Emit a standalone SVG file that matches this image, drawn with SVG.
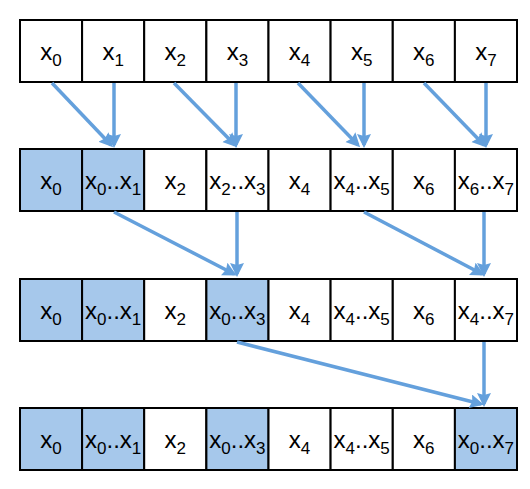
<svg xmlns="http://www.w3.org/2000/svg" width="530" height="489" viewBox="0 0 530 489">
<style>
.c{fill:#ffffff;stroke:#000000;stroke-width:2}
.b{fill:#a6c8eb;stroke:#000000;stroke-width:2}
text{font-family:"Liberation Sans",Arial,sans-serif;font-size:24px;fill:#000000;text-anchor:middle}
.s{font-size:17px}
.a{fill:none;stroke:#64a0dc;stroke-width:3.5;marker-end:url(#ah)}
</style>
<defs>
<marker id="ah" markerUnits="userSpaceOnUse" markerWidth="16" markerHeight="16" refX="11" refY="7" orient="auto">
<path d="M0,0 L14,7 L0,14 L2,7 z" fill="#64a0dc"/>
</marker>
</defs>
<rect width="530" height="489" fill="#ffffff"/>

<g id="r1c0"><rect class="c" x="20" y="20" width="62.1" height="62"/><text x="51.1" y="60">x<tspan class="s" dy="6">0</tspan></text></g>
<g id="r1c1"><rect class="c" x="82.1" y="20" width="62.1" height="62"/><text x="113.2" y="60">x<tspan class="s" dy="6">1</tspan></text></g>
<g id="r1c2"><rect class="c" x="144.2" y="20" width="62.1" height="62"/><text x="175.3" y="60">x<tspan class="s" dy="6">2</tspan></text></g>
<g id="r1c3"><rect class="c" x="206.4" y="20" width="62.1" height="62"/><text x="237.4" y="60">x<tspan class="s" dy="6">3</tspan></text></g>
<g id="r1c4"><rect class="c" x="268.5" y="20" width="62.1" height="62"/><text x="299.6" y="60">x<tspan class="s" dy="6">4</tspan></text></g>
<g id="r1c5"><rect class="c" x="330.6" y="20" width="62.1" height="62"/><text x="361.7" y="60">x<tspan class="s" dy="6">5</tspan></text></g>
<g id="r1c6"><rect class="c" x="392.8" y="20" width="62.1" height="62"/><text x="423.8" y="60">x<tspan class="s" dy="6">6</tspan></text></g>
<g id="r1c7"><rect class="c" x="454.9" y="20" width="62.1" height="62"/><text x="485.9" y="60">x<tspan class="s" dy="6">7</tspan></text></g>

<g id="r2c0"><rect class="b" x="20" y="149" width="62.1" height="62"/><text x="51.1" y="189">x<tspan class="s" dy="6">0</tspan></text></g>
<g id="r2c1"><rect class="b" x="82.1" y="149" width="62.1" height="62"/><text x="113.2" y="189">x<tspan class="s" dy="6">0</tspan><tspan dy="-6">..x</tspan><tspan class="s" dy="6">1</tspan></text></g>
<g id="r2c2"><rect class="c" x="144.2" y="149" width="62.1" height="62"/><text x="175.3" y="189">x<tspan class="s" dy="6">2</tspan></text></g>
<g id="r2c3"><rect class="c" x="206.4" y="149" width="62.1" height="62"/><text x="237.4" y="189">x<tspan class="s" dy="6">2</tspan><tspan dy="-6">..x</tspan><tspan class="s" dy="6">3</tspan></text></g>
<g id="r2c4"><rect class="c" x="268.5" y="149" width="62.1" height="62"/><text x="299.6" y="189">x<tspan class="s" dy="6">4</tspan></text></g>
<g id="r2c5"><rect class="c" x="330.6" y="149" width="62.1" height="62"/><text x="361.7" y="189">x<tspan class="s" dy="6">4</tspan><tspan dy="-6">..x</tspan><tspan class="s" dy="6">5</tspan></text></g>
<g id="r2c6"><rect class="c" x="392.8" y="149" width="62.1" height="62"/><text x="423.8" y="189">x<tspan class="s" dy="6">6</tspan></text></g>
<g id="r2c7"><rect class="c" x="454.9" y="149" width="62.1" height="62"/><text x="485.9" y="189">x<tspan class="s" dy="6">6</tspan><tspan dy="-6">..x</tspan><tspan class="s" dy="6">7</tspan></text></g>

<g id="r3c0"><rect class="b" x="20" y="279" width="62.1" height="62"/><text x="51.1" y="319">x<tspan class="s" dy="6">0</tspan></text></g>
<g id="r3c1"><rect class="b" x="82.1" y="279" width="62.1" height="62"/><text x="113.2" y="319">x<tspan class="s" dy="6">0</tspan><tspan dy="-6">..x</tspan><tspan class="s" dy="6">1</tspan></text></g>
<g id="r3c2"><rect class="c" x="144.2" y="279" width="62.1" height="62"/><text x="175.3" y="319">x<tspan class="s" dy="6">2</tspan></text></g>
<g id="r3c3"><rect class="b" x="206.4" y="279" width="62.1" height="62"/><text x="237.4" y="319">x<tspan class="s" dy="6">0</tspan><tspan dy="-6">..x</tspan><tspan class="s" dy="6">3</tspan></text></g>
<g id="r3c4"><rect class="c" x="268.5" y="279" width="62.1" height="62"/><text x="299.6" y="319">x<tspan class="s" dy="6">4</tspan></text></g>
<g id="r3c5"><rect class="c" x="330.6" y="279" width="62.1" height="62"/><text x="361.7" y="319">x<tspan class="s" dy="6">4</tspan><tspan dy="-6">..x</tspan><tspan class="s" dy="6">5</tspan></text></g>
<g id="r3c6"><rect class="c" x="392.8" y="279" width="62.1" height="62"/><text x="423.8" y="319">x<tspan class="s" dy="6">6</tspan></text></g>
<g id="r3c7"><rect class="c" x="454.9" y="279" width="62.1" height="62"/><text x="485.9" y="319">x<tspan class="s" dy="6">4</tspan><tspan dy="-6">..x</tspan><tspan class="s" dy="6">7</tspan></text></g>

<g id="r4c0"><rect class="b" x="20" y="408" width="62.1" height="62"/><text x="51.1" y="448">x<tspan class="s" dy="6">0</tspan></text></g>
<g id="r4c1"><rect class="b" x="82.1" y="408" width="62.1" height="62"/><text x="113.2" y="448">x<tspan class="s" dy="6">0</tspan><tspan dy="-6">..x</tspan><tspan class="s" dy="6">1</tspan></text></g>
<g id="r4c2"><rect class="c" x="144.2" y="408" width="62.1" height="62"/><text x="175.3" y="448">x<tspan class="s" dy="6">2</tspan></text></g>
<g id="r4c3"><rect class="b" x="206.4" y="408" width="62.1" height="62"/><text x="237.4" y="448">x<tspan class="s" dy="6">0</tspan><tspan dy="-6">..x</tspan><tspan class="s" dy="6">3</tspan></text></g>
<g id="r4c4"><rect class="c" x="268.5" y="408" width="62.1" height="62"/><text x="299.6" y="448">x<tspan class="s" dy="6">4</tspan></text></g>
<g id="r4c5"><rect class="c" x="330.6" y="408" width="62.1" height="62"/><text x="361.7" y="448">x<tspan class="s" dy="6">4</tspan><tspan dy="-6">..x</tspan><tspan class="s" dy="6">5</tspan></text></g>
<g id="r4c6"><rect class="c" x="392.8" y="408" width="62.1" height="62"/><text x="423.8" y="448">x<tspan class="s" dy="6">6</tspan></text></g>
<g id="r4c7"><rect class="b" x="454.9" y="408" width="62.1" height="62"/><text x="485.9" y="448">x<tspan class="s" dy="6">0</tspan><tspan dy="-6">..x</tspan><tspan class="s" dy="6">7</tspan></text></g>

<g id="connectors">
<line class="a" x1="52" y1="83" x2="111" y2="145"/>
<line class="a" x1="114" y1="83" x2="114" y2="145"/>
<line class="a" x1="174" y1="83" x2="235" y2="145"/>
<line class="a" x1="236" y1="83" x2="236" y2="145"/>
<line class="a" x1="298" y1="83" x2="358" y2="145"/>
<line class="a" x1="364" y1="83" x2="364" y2="145"/>
<line class="a" x1="424" y1="83" x2="484" y2="145"/>
<line class="a" x1="486" y1="83" x2="486" y2="145"/>
<line class="a" x1="114" y1="212" x2="234" y2="274"/>
<line class="a" x1="237" y1="212" x2="237" y2="274"/>
<line class="a" x1="364" y1="212" x2="482" y2="274"/>
<line class="a" x1="484" y1="212" x2="484" y2="274"/>
<line class="a" x1="237" y1="342" x2="481" y2="404"/>
<line class="a" x1="484" y1="342" x2="484" y2="404"/>
</g>
</svg>
